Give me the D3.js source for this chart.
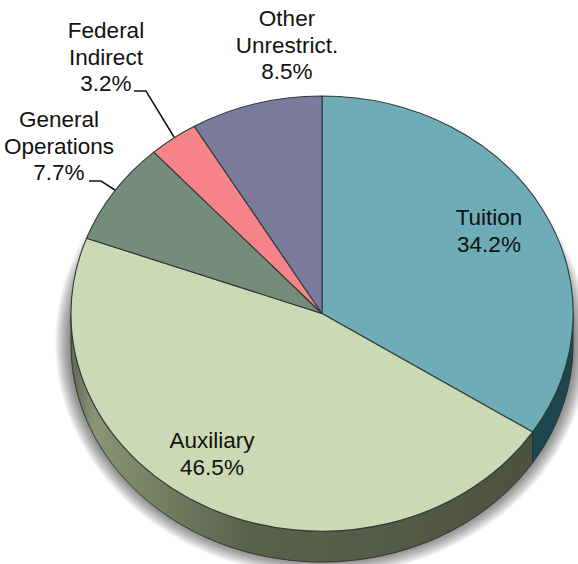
<!DOCTYPE html>
<html>
<head>
<meta charset="utf-8">
<script src="https://cdn.jsdelivr.net/npm/d3@7/dist/d3.min.js"></script>
<style>
  html, body { margin: 0; padding: 0; background: #fff; }
  svg { display: block; }
  text { font-family: "Liberation Sans", Arial, sans-serif; font-size: 22.5px; fill: #111; text-anchor: middle; }
</style>
</head>
<body>
<svg id="chart" width="578" height="564"></svg>
<script>
// Revenue shares, clockwise from twelve o'clock
const categories = ["Tuition", "Auxiliary", "General Operations", "Federal Indirect", "Other Unrestrict."];
const shares = [34.2, 46.5, 7.7, 3.2, 8.5];
const topColors = ["#6eacb7", "#ccd9b5", "#748c79", "#f58388", "#7a7a9d"];
const wallColors = ["#1e4650", "url(#auxWall)", "#4c5340", "#4c5340", "#4c5340"];

// Label lines and anchor positions, one entry per slice
const labelLines = [["Tuition"], ["Auxiliary"], ["General", "Operations"], ["Federal", "Indirect"], ["Other", "Unrestrict."]];
const labelAnchors = [[489, 225], [212, 448], [59, 127], [106, 38], [287, 26]];
const lineStep = 26.5;

// Leader lines for the two thin slices outside the pie
const leaders = [
  { slice: 2, points: [[89, 181], [101, 181], [115, 190]] },
  { slice: 3, points: [[134, 91], [146, 91], [174, 137]] }
];

const cx = 322, cy = 313.5, rx = 251, ry = 217.5, depth = 31;
const svg = d3.select("#chart");
const defs = svg.append("defs");

const wallGrad = defs.append("linearGradient").attr("id", "auxWall")
  .attr("gradientUnits", "userSpaceOnUse")
  .attr("x1", 71).attr("x2", 533).attr("y1", 0).attr("y2", 0);
wallGrad.append("stop").attr("offset", "0%").attr("stop-color", "#5f6653");
wallGrad.append("stop").attr("offset", "5%").attr("stop-color", "#8a9577");
wallGrad.append("stop").attr("offset", "14%").attr("stop-color", "#7c8768");
wallGrad.append("stop").attr("offset", "38%").attr("stop-color", "#5a624b");
wallGrad.append("stop").attr("offset", "100%").attr("stop-color", "#4d5240");

const pie = d3.pie().sort(null).value(d => d);
const arcs = pie(shares);

// Pie space is a unit circle squashed to the tilted ellipse
const xScale = d3.scaleLinear().domain([-1, 1]).range([cx - rx, cx + rx]);
const yScale = d3.scaleLinear().domain([-1, 1]).range([cy - ry, cy + ry]);
const rim = a => [xScale(Math.sin(a)), yScale(-Math.cos(a))];

// Drop shadow under the raised disc: concentric translucent rings build the falloff
const shadow = svg.append("g").attr("fill", "#000").attr("fill-opacity", 0.035);
d3.range(16, 0, -1).forEach(grow => {
  shadow.append("ellipse")
    .attr("cx", cx).attr("cy", cy + depth - 2)
    .attr("rx", rx + grow).attr("ry", ry + grow);
});

// Side wall: only the front half of the rim is visible
const line = d3.line();
const wall = svg.append("g");
arcs.forEach((d, i) => {
  const a0 = Math.max(d.startAngle, Math.PI / 2);
  const a1 = Math.min(d.endAngle, Math.PI * 3 / 2);
  if (a1 <= a0) return;
  const steps = d3.range(a0, a1, 0.01).concat([a1]);
  const upper = steps.map(rim);
  const lower = steps.map(rim).reverse().map(([x, y]) => [x, y + depth]);
  wall.append("path")
    .attr("d", line(upper.concat(lower)) + "Z")
    .attr("fill", wallColors[i])
    .attr("stroke", "#2a2f26")
    .attr("stroke-width", 0.9)
    .attr("stroke-linejoin", "round");
});

// Top face of the disc
const arc = d3.arc().innerRadius(0).outerRadius(1);
svg.append("g")
  .attr("transform", `translate(${cx},${cy}) scale(${rx},${ry})`)
  .selectAll("path")
  .data(arcs)
  .join("path")
  .attr("d", arc)
  .attr("fill", (d, i) => topColors[i])
  .attr("stroke", "#2f3a3a")
  .attr("stroke-width", 1.1)
  .attr("stroke-linejoin", "round")
  .attr("vector-effect", "non-scaling-stroke");

// Leader lines
svg.append("g").selectAll("path")
  .data(leaders)
  .join("path")
  .attr("d", d => line(d.points))
  .attr("fill", "none")
  .attr("stroke", "#111")
  .attr("stroke-width", 1.5);

// Labels: name lines followed by the percentage
const labels = svg.append("g").selectAll("text")
  .data(categories)
  .join("text")
  .attr("x", (d, i) => labelAnchors[i][0])
  .attr("y", (d, i) => labelAnchors[i][1]);
labels.each(function (d, i) {
  const rows = labelLines[i].concat([shares[i].toFixed(1) + "%"]);
  d3.select(this).selectAll("tspan")
    .data(rows)
    .join("tspan")
    .attr("x", labelAnchors[i][0])
    .attr("y", (r, j) => labelAnchors[i][1] + j * lineStep)
    .text(r => r);
});
</script>
</body>
</html>
